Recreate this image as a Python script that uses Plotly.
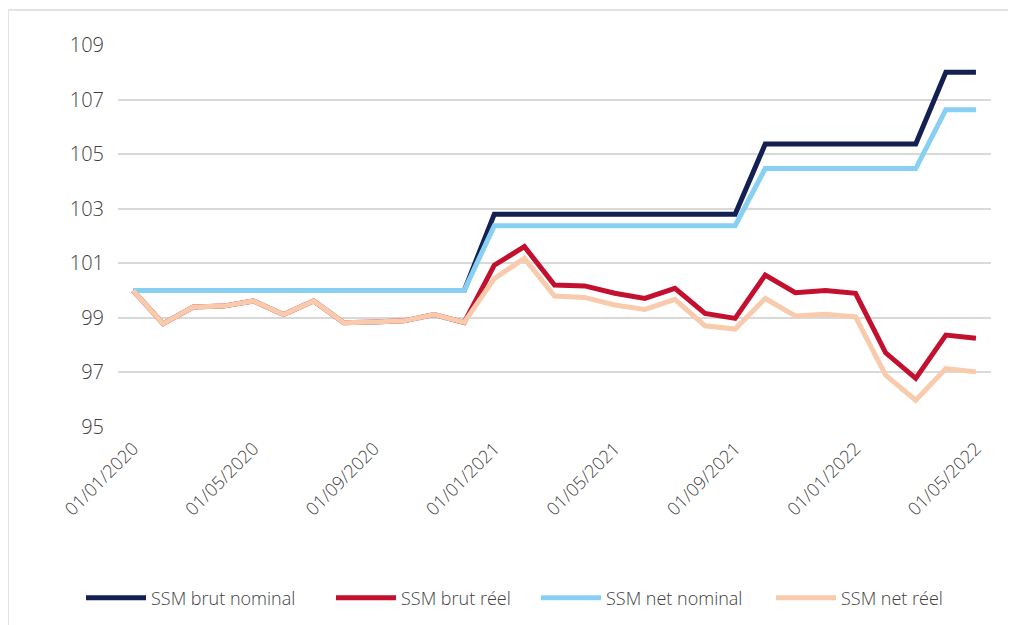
import plotly.graph_objects as go

months = [
    "01/01/2020", "01/02/2020", "01/03/2020", "01/04/2020", "01/05/2020", "01/06/2020",
    "01/07/2020", "01/08/2020", "01/09/2020", "01/10/2020", "01/11/2020", "01/12/2020",
    "01/01/2021", "01/02/2021", "01/03/2021", "01/04/2021", "01/05/2021", "01/06/2021",
    "01/07/2021", "01/08/2021", "01/09/2021", "01/10/2021", "01/11/2021", "01/12/2021",
    "01/01/2022", "01/02/2022", "01/03/2022", "01/04/2022", "01/05/2022",
]
tick_labels = ["01/01/2020", "01/05/2020", "01/09/2020", "01/01/2021",
               "01/05/2021", "01/09/2021", "01/01/2022", "01/05/2022"]

brut_nominal = [100]*12 + [102.8]*9 + [105.37]*6 + [108.0]*2
net_nominal = [100]*12 + [102.38]*9 + [104.47]*6 + [106.63]*2

brut_reel = [100.0, 98.79, 99.40, 99.43, 99.62, 99.12, 99.62, 98.82, 98.85, 98.89, 99.12, 98.83,
             100.93, 101.61, 100.20, 100.17, 99.90, 99.71, 100.08, 99.16, 98.98, 100.57,
             99.92, 100.0, 99.90, 97.72, 96.78, 98.37, 98.25]
net_reel = [100.0, 98.79, 99.40, 99.43, 99.62, 99.12, 99.62, 98.82, 98.85, 98.89, 99.12, 98.83,
            100.44, 101.18, 99.80, 99.75, 99.47, 99.31, 99.68, 98.71, 98.59, 99.71,
            99.07, 99.13, 99.04, 96.90, 95.98, 97.14, 97.02]

series = [
    ("SSM brut nominal", brut_nominal, "#141f52"),
    ("SSM brut réel", brut_reel, "#c3102f"),
    ("SSM net nominal", net_nominal, "#87d0f4"),
    ("SSM net réel", net_reel, "#f8cbad"),
]
legend_ids = ["legend", "legend2", "legend3", "legend4"]

# page offset (default body margin of the html page)
OFF = 8
W, H = 1016 - OFF, 625 - OFF
# plot area in page coordinates
PL, PR, PT, PB = 118, 991, 45, 427
ML, MT = PL - OFF, PT - OFF
MR, MB = W - (PR - OFF), H - (PB - OFF)
PW, PH = PR - PL, PB - PT

def px_x(px):
    return (px - PL) / PW

def px_y(py):
    return (PB - py) / PH

legend_x_page = [81, 331, 536, 771]

fig = go.Figure()
for (name, vals, color), lid in zip(series, legend_ids):
    fig.add_trace(go.Scatter(
        x=months, y=vals, name=name, mode="lines",
        line=dict(color=color, width=5),
        legend=lid,
    ))

font_family = "Open Sans, Noto Sans, sans-serif"
legend_common = dict(
    orientation="h", yanchor="middle", xanchor="left",
    y=px_y(598),
    font=dict(size=18, color="#404040", family=font_family, weight=300),
    itemwidth=60, bgcolor="rgba(0,0,0,0)", borderwidth=0,
)
legends = {}
for lid, px in zip(legend_ids, legend_x_page):
    legends[lid] = dict(legend_common, x=px_x(px))

fig.update_layout(
    width=W, height=H,
    margin=dict(l=ML, r=MR, t=MT, b=MB, autoexpand=False),
    paper_bgcolor="white", plot_bgcolor="white",
    font=dict(family=font_family, color="#404040", size=18),
    showlegend=True,
    xaxis=dict(
        type="category", range=[-0.5, len(months) - 0.5],
        tickmode="array", tickvals=tick_labels, ticktext=tick_labels,
        tickangle=-45, showgrid=False, showline=False, zeroline=False,
        ticks="outside", ticklen=3, tickcolor="rgba(0,0,0,0)",
        tickfont=dict(size=18, color="#404040", weight=300),
        automargin=False,
    ),
    yaxis=dict(
        range=[95, 109], tick0=95, dtick=2, showgrid=True,
        gridcolor="#d9d9d9", gridwidth=2, zeroline=False, showline=False,
        ticks="outside", ticklen=9, tickcolor="rgba(0,0,0,0)",
        tickfont=dict(size=20, color="#404040", weight=300),
        automargin=False,
    ),
    shapes=[
        dict(type="line", xref="paper", yref="paper",
             x0=px_x(8), x1=px_x(8), y0=px_y(10), y1=px_y(640),
             line=dict(color="#e3e3e3", width=2)),
        dict(type="line", xref="paper", yref="paper",
             x0=px_x(8), x1=px_x(1030), y0=px_y(10), y1=px_y(10),
             line=dict(color="#e3e3e3", width=2)),
    ],
    **legends,
)

fig.write_html("out.html")
